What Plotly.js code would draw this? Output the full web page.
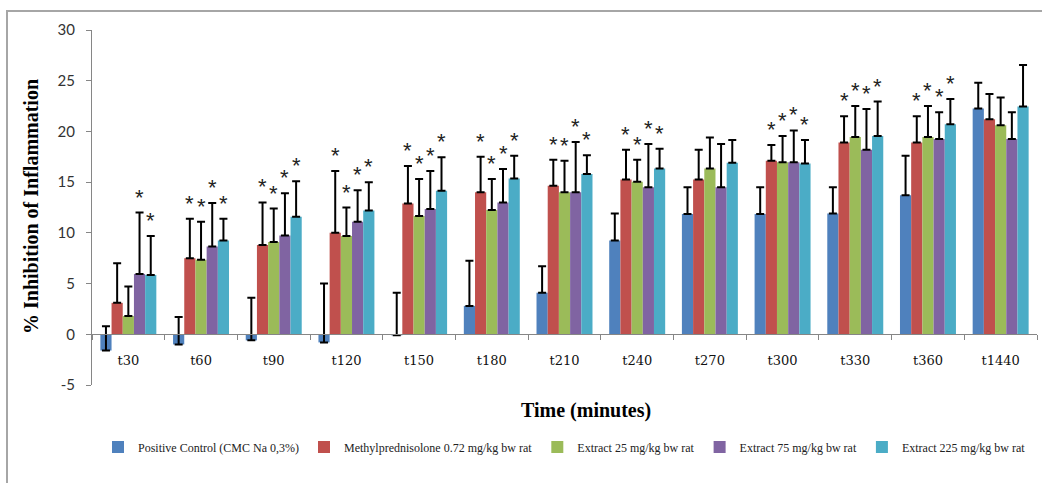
<!DOCTYPE html>
<html>
<head>
<meta charset="utf-8">
<script src="https://cdn.plot.ly/plotly-3.0.1.min.js"></script>
<style>html,body{margin:0;padding:0;background:#fff;}#chart{width:1042px;height:483px;}</style>
</head>
<body>
<div id="chart"></div>
<script>
// ---- data ----
const categories = ["t30","t60","t90","t120","t150","t180","t210","t240","t270","t300","t330","t360","t1440"];
const seriesNames = [
  "Positive Control (CMC Na 0,3%)",
  "Methylprednisolone 0.72 mg/kg bw rat",
  "Extract 25 mg/kg bw rat",
  "Extract 75 mg/kg bw rat",
  "Extract 225 mg/kg bw rat"
];
const controlValues = [-1.6, -1.0, -0.6, -0.8, -0.1, 2.8, 4.1, 9.25, 11.85, 11.85, 11.9, 13.7, 22.25];
const controlErrors = [2.4, 2.7, 4.2, 5.8, 4.2, 4.45, 2.6, 2.65, 2.65, 2.65, 2.6, 3.9, 2.55];
const methylValues  = [3.1, 7.5, 8.8, 10.0, 12.9, 14.0, 14.65, 15.25, 15.25, 17.1, 18.9, 18.9, 21.2];
const methylErrors  = [3.9, 3.9, 4.2, 6.1, 3.7, 3.5, 2.55, 2.95, 2.95, 1.55, 2.6, 2.6, 2.5];
const ext25Values   = [1.8, 7.35, 9.1, 9.7, 11.65, 12.25, 14.0, 15.05, 16.35, 16.95, 19.45, 19.45, 20.6];
const ext25Errors   = [2.9, 3.75, 3.3, 2.8, 3.65, 3.05, 3.1, 2.15, 3.05, 2.6, 3.05, 3.05, 2.75];
const ext75Values   = [5.95, 8.65, 9.75, 11.1, 12.35, 13.0, 14.0, 14.5, 14.5, 16.95, 18.2, 19.25, 19.25];
const ext75Errors   = [6.05, 4.3, 4.15, 3.1, 3.75, 3.3, 4.95, 4.25, 4.25, 3.15, 4.0, 2.65, 2.65];
const ext225Values  = [5.85, 9.25, 11.6, 12.2, 14.15, 15.35, 15.8, 16.35, 16.9, 16.85, 19.55, 20.7, 22.45];
const ext225Errors  = [3.85, 2.15, 3.5, 2.8, 3.3, 2.25, 1.85, 1.95, 2.25, 2.3, 3.4, 2.5, 4.1];
// significance markers (1 = "*")
const controlStars = [0,0,0,0,0,0,0,0,0,0,0,0,0];
const methylStars  = [0,1,1,1,1,1,1,1,0,1,1,1,0];
const ext25Stars   = [0,1,1,1,1,1,1,1,0,1,1,1,0];
const ext75Stars   = [1,1,1,1,1,1,1,1,0,1,1,1,0];
const ext225Stars  = [1,1,1,1,1,1,1,1,0,1,1,1,0];
const yTicks = [-5, 0, 5, 10, 15, 20, 25, 30];

const colors = ["#4F81BD", "#C0504D", "#9BBB59", "#8064A2", "#4BACC6"];
const allValues = [controlValues, methylValues, ext25Values, ext75Values, ext225Values];
const allErrors = [controlErrors, methylErrors, ext25Errors, ext75Errors, ext225Errors];
const allStars  = [controlStars, methylStars, ext25Stars, ext75Stars, ext225Stars];

const traces = allValues.map((vals, i) => ({
  type: "bar",
  name: seriesNames[i],
  x: categories,
  y: vals,
  marker: {color: colors[i]},
  error_y: {type: "data", symmetric: false, array: allErrors[i], arrayminus: vals.map(() => 0),
            color: "#000", thickness: 2, width: 4},
  hoverinfo: "x+y+name"
}));

// plot geometry
const W = 1042, H = 483;
const margin = {l: 92, r: 5, t: 30, b: 98};
const plotW = W - margin.l - margin.r;
const plotH = H - margin.t - margin.b;
const bargap = 0.23;
const nSeries = allValues.length;
const barPx = plotW / categories.length * (1 - bargap) / nSeries;

const annotations = [];
allValues.forEach((vals, i) => {
  vals.forEach((v, k) => {
    if (allStars[i][k]) {
      annotations.push({
        x: categories[k], y: v + allErrors[i][k], xref: "x", yref: "y",
        text: "*", showarrow: false, xanchor: "center", yanchor: "bottom",
        xshift: (i - (nSeries - 1) / 2) * barPx, yshift: 1,
        font: {family: "Liberation Sans, Arial, sans-serif", size: 22, color: "#222"}
      });
    }
  });
});
const pxX = px => (px - margin.l) / plotW;
const pxY = py => (H - margin.b - py) / plotH;
annotations.push({
  xref: "paper", yref: "paper", x: pxX(31), y: pxY(207), textangle: -90,
  text: "% Inhibition of Inflammation", showarrow: false, xanchor: "center", yanchor: "middle",
  font: {family: "Liberation Serif, Times New Roman, serif", size: 20, color: "#000", weight: "bold"}
});
annotations.push({
  xref: "paper", yref: "paper", x: pxX(586), y: pxY(411),
  text: "Time (minutes)", showarrow: false, xanchor: "center", yanchor: "middle",
  font: {family: "Liberation Serif, Times New Roman, serif", size: 20, color: "#000", weight: "bold"}
});

const yMin = -5, yMax = 30;
const layout = {
  width: W, height: H,
  margin: margin,
  paper_bgcolor: "#fff", plot_bgcolor: "#fff",
  barmode: "group", bargap: bargap, bargroupgap: 0,
  showlegend: true,
  legend: {orientation: "h", x: 0.5, xanchor: "center", y: pxY(447), yanchor: "middle",
           font: {family: "Liberation Serif, Times New Roman, serif", size: 12, color: "#222"},
           itemwidth: 30, tracegroupgap: 0, bgcolor: "rgba(0,0,0,0)"},
  xaxis: {
    type: "category", anchor: "free", position: (0 - yMin) / (yMax - yMin),
    showline: true, linecolor: "#868686", linewidth: 1,
    ticks: "outside", tickson: "boundaries", ticklen: 5, tickcolor: "#868686",
    showgrid: false, zeroline: false,
    tickfont: {family: "DejaVu Serif, serif", size: 13, color: "#111"},
    ticklabelstandoff: 14
  },
  yaxis: {
    range: [yMin, yMax], tickvals: yTicks, ticktext: yTicks.map(String),
    showline: true, linecolor: "#868686", linewidth: 1,
    ticks: "outside", ticklen: 5, tickcolor: "#868686",
    showgrid: false, zeroline: false,
    tickfont: {family: "Lato, Open Sans, sans-serif", size: 15, color: "#333"},
    ticklabelstandoff: 8
  },
  annotations: annotations,
  shapes: [{
    type: "path", xref: "paper", yref: "paper",
    path: `M ${pxX(7)} ${pxY(490)} L ${pxX(7)} ${pxY(11)} L ${pxX(1050)} ${pxY(11)}`,
    line: {color: "#a6a6a6", width: 2}
  }]
};

Plotly.newPlot("chart", traces, layout, {displayModeBar: false, staticPlot: true});
</script>
</body>
</html>
